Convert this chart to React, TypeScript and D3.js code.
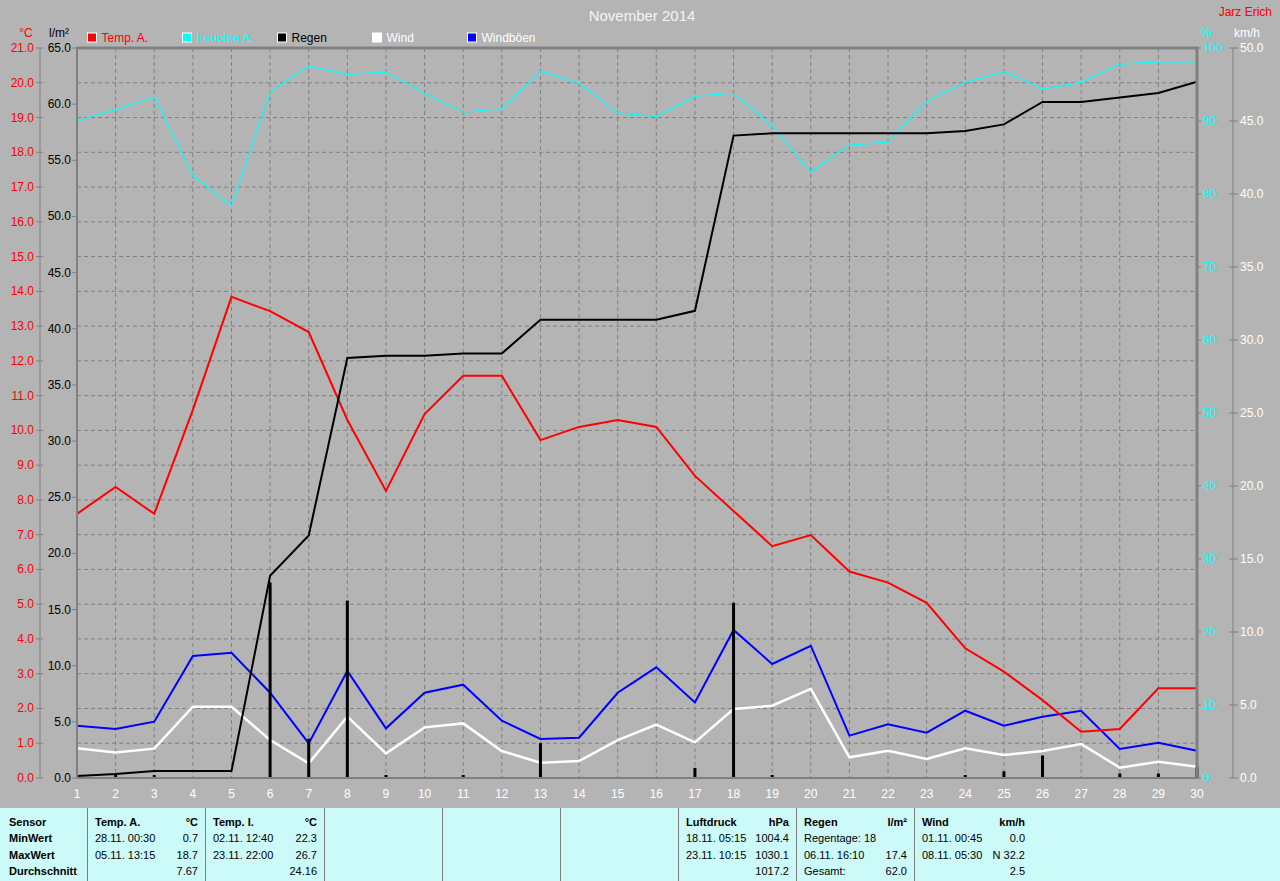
import React from "react";
import * as d3 from "d3";

// ---- data ----
const days = [1,2,3,4,5,6,7,8,9,10,11,12,13,14,15,16,17,18,19,20,21,22,23,24,25,26,27,28,29,30];
const tempA = [7.6,8.37,7.6,10.59,13.84,13.43,12.83,10.3,8.26,10.47,11.57,11.57,9.72,10.1,10.3,10.1,8.69,7.68,6.67,6.99,5.94,5.62,5.04,3.73,3.06,2.24,1.33,1.41,2.58,2.58];
const humidity = [90.0,91.6,93.3,82.5,78.4,94.0,97.5,96.4,96.7,93.8,91.2,91.7,96.8,95.2,91.1,90.6,93.4,93.8,89.3,83.0,86.7,87.1,92.7,95.3,96.8,94.4,95.3,97.8,98.1,98.1];
const rainTotal = [0.18,0.36,0.62,0.62,0.62,18.0,21.6,37.4,37.6,37.6,37.8,37.8,40.8,40.8,40.8,40.8,41.6,57.2,57.4,57.4,57.4,57.4,57.4,57.6,58.2,60.2,60.2,60.6,61.0,62.0];
const rainDaily = [0,0.2,0.2,0,0,17.4,3.5,15.8,0.2,0,0.2,0,3.1,0,0,0,0.9,15.6,0.2,0,0,0,0,0.2,0.6,2.0,0,0.4,0.4,1.0];
const wind = [2.03,1.74,2.01,4.88,4.88,2.6,1.0,4.2,1.69,3.47,3.74,1.85,1.05,1.16,2.6,3.65,2.44,4.73,4.95,6.1,1.42,1.87,1.3,2.03,1.58,1.85,2.33,0.71,1.12,0.77];
const gusts = [3.58,3.36,3.86,8.36,8.58,5.84,2.37,7.33,3.4,5.84,6.39,3.93,2.67,2.76,5.84,7.58,5.18,10.14,7.81,9.06,2.9,3.68,3.1,4.61,3.58,4.2,4.61,1.99,2.42,1.87];

const tempTicks = [0,1,2,3,4,5,6,7,8,9,10,11,12,13,14,15,16,17,18,19,20,21];
const rainTicks = [0,5,10,15,20,25,30,35,40,45,50,55,60,65];
const humTicks = [0,10,20,30,40,50,60,70,80,90,100];
const windTicks = [0,5,10,15,20,25,30,35,40,45,50];

const legendNames = ["Temp. A.", "Feuchte A.", "Regen", "Wind", "Windböen"];
const legendColors = ["#ff0000", "#00ffff", "#000000", "#ffffff", "#0000ff"];
const legendTextColors = ["#ff0000", "#00ffff", "#000000", "#ffffff", "#ffffff"];

const tableRowLabels = ["Sensor", "MinWert", "MaxWert", "Durchschnitt"];
const tableCols = [
  { x0: 87, x1: 205, head: "Temp. A.", unit: "°C", left: ["28.11.  00:30", "05.11.  13:15", ""], right: ["0.7", "18.7", "7.67"] },
  { x0: 205, x1: 324, head: "Temp. I.", unit: "°C", left: ["02.11.  12:40", "23.11.  22:00", ""], right: ["22.3", "26.7", "24.16"] },
  { x0: 678, x1: 796, head: "Luftdruck", unit: "hPa", left: ["18.11.  05:15", "23.11.  10:15", ""], right: ["1004.4", "1030.1", "1017.2"] },
  { x0: 796, x1: 914, head: "Regen", unit: "l/m²", left: ["Regentage: 18", "06.11.  16:10", "Gesamt:"], right: ["", "17.4", "62.0"] },
  { x0: 914, x1: 1032, head: "Wind", unit: "km/h", left: ["01.11.  00:45", "08.11.  05:30", ""], right: ["0.0", "N 32.2", "2.5"] },
];
const tableDividers = [87, 205, 324, 442, 560, 678, 796, 914];

export default function App() {
  const W = 1280, H = 881;
  const left = 77, right = 1197, top = 48, bottom = 778;
  const x = d3.scaleLinear().domain([1, 30]).range([left, right]);
  const yT = d3.scaleLinear().domain([0, 21]).range([bottom, top]);
  const yR = d3.scaleLinear().domain([0, 65]).range([bottom, top]);
  const yH = d3.scaleLinear().domain([0, 100]).range([bottom, top]);
  const yW = d3.scaleLinear().domain([0, 50]).range([bottom, top]);

  const mk = (vals: number[], y: d3.ScaleLinear<number, number>) =>
    d3.line<number>().x((_, i) => x(days[i])).y((v) => y(v))(vals) || "";

  const font = "'Liberation Sans', Arial, sans-serif";
  const grid = "#808080";

  return (
    <div style={{ position: "absolute", left: 0, top: 0, width: W, height: H }}>
      <svg width={W} height={H} style={{ display: "block", fontFamily: font }}>
        <rect x={0} y={0} width={W} height={H} fill="#b4b4b4" />
        {/* title */}
        <text x={642} y={21} textAnchor="middle" fontSize={15} fill="#f4f4f4">November 2014</text>
        <text x={1272} y={16} textAnchor="end" fontSize={12} fill="#ff0000">Jarz Erich</text>

        {/* unit headers */}
        <text x={26} y={37} textAnchor="middle" fontSize={12} fill="#ff0000">°C</text>
        <text x={59} y={37} textAnchor="middle" fontSize={12} fill="#000">l/m²</text>
        <text x={1206} y={37} textAnchor="middle" fontSize={12} fill="#00ffff">%</text>
        <text x={1247} y={37} textAnchor="middle" fontSize={12} fill="#ffffff">km/h</text>

        {/* legend */}
        {legendNames.map((n, i) => {
          const lx = 87.5 + i * 95;
          return (
            <g key={n}>
              <rect x={lx} y={33} width={9} height={9} fill={legendColors[i]} stroke="#ffffff" strokeWidth={1} />
              <text x={lx + 14} y={42} fontSize={12} fill={legendTextColors[i]}>{n}</text>
            </g>
          );
        })}

        {/* grid */}
        {tempTicks.map((t) => (
          <line key={"hg" + t} x1={left} x2={right} y1={yT(t)} y2={yT(t)} stroke={grid} strokeWidth={1} strokeDasharray="4,3" />
        ))}
        {days.map((d) => (
          <line key={"vg" + d} x1={x(d)} x2={x(d)} y1={top} y2={bottom} stroke={grid} strokeWidth={1} strokeDasharray="4,3" />
        ))}

        {/* left temp axis */}
        <line x1={40} x2={40} y1={top} y2={bottom} stroke={grid} strokeWidth={1} />
        {tempTicks.map((t) => (
          <g key={"ta" + t}>
            <line x1={36} x2={43} y1={yT(t)} y2={yT(t)} stroke={grid} />
            <text x={34} y={yT(t) + 4} textAnchor="end" fontSize={12} fill="#ff0000">{t.toFixed(1)}</text>
          </g>
        ))}
        {/* rain axis */}
        {rainTicks.map((t) => (
          <g key={"ra" + t}>
            <line x1={72} x2={77} y1={yR(t)} y2={yR(t)} stroke={grid} />
            <text x={71} y={yR(t) + 4} textAnchor="end" fontSize={12} fill="#000">{t.toFixed(1)}</text>
          </g>
        ))}
        {/* humidity axis */}
        {humTicks.map((t) => (
          <g key={"ha" + t}>
            <line x1={right} x2={1201} y1={yH(t)} y2={yH(t)} stroke={grid} />
            <text x={1203} y={yH(t) + 4} fontSize={12} fill="#00ffff">{t}</text>
          </g>
        ))}
        {/* wind axis */}
        <line x1={1233} x2={1233} y1={top} y2={bottom} stroke={grid} strokeWidth={1} />
        {windTicks.map((t) => (
          <g key={"wa" + t}>
            <line x1={1229} x2={1238} y1={yW(t)} y2={yW(t)} stroke={grid} />
            <text x={1240} y={yW(t) + 4} fontSize={12} fill="#ffffff">{t.toFixed(1)}</text>
          </g>
        ))}

        {/* x labels */}
        {days.map((d) => (
          <text key={"xl" + d} x={x(d)} y={798} textAnchor="middle" fontSize={12} fill="#ffffff">{d}</text>
        ))}

        {/* series */}
        <path d={mk(humidity, yH)} fill="none" stroke="#00ffff" strokeWidth={1.2} />
        <path d={mk(wind, yW)} fill="none" stroke="#ffffff" strokeWidth={2.5} />
        <path d={mk(gusts, yW)} fill="none" stroke="#0000ff" strokeWidth={2} />
        <path d={mk(tempA, yT)} fill="none" stroke="#ff0000" strokeWidth={2} />
        <path d={mk(rainTotal, yR)} fill="none" stroke="#000000" strokeWidth={2} />
        {rainDaily.map((v, i) =>
          v > 0 ? (
            <rect key={"rb" + i} x={x(days[i]) - 1.5} y={Math.min(yR(v), bottom - 3)} width={3} height={bottom - Math.min(yR(v), bottom - 3)} fill="#000" />
          ) : null
        )}

        {/* plot border */}
        <line x1={left} x2={left} y1={top - 1} y2={bottom} stroke={grid} strokeWidth={2} />
        <line x1={left} x2={right + 1.5} y1={top} y2={top} stroke={grid} strokeWidth={3} />
        <line x1={right} x2={right} y1={top} y2={bottom + 1} stroke={grid} strokeWidth={3} />
        <line x1={left} x2={right + 1.5} y1={bottom} y2={bottom} stroke={grid} strokeWidth={2} />

        {/* table */}
        <rect x={0} y={808} width={W} height={H - 808} fill="#ccfaf8" />
        {tableDividers.map((dx) => (
          <line key={"td" + dx} x1={dx + 0.5} x2={dx + 0.5} y1={808} y2={H} stroke="#808080" strokeWidth={1} />
        ))}
        {tableRowLabels.map((l, i) => (
          <text key={"rl" + i} x={9} y={826 + i * 16.3} fontSize={11} fontWeight="bold" fill="#000">{l}</text>
        ))}
        {tableCols.map((c) => (
          <g key={c.head}>
            <text x={c.x0 + 8} y={826} fontSize={11} fontWeight="bold" fill="#000">{c.head}</text>
            <text x={c.x1 - 7} y={826} fontSize={11} fontWeight="bold" fill="#000" textAnchor="end">{c.unit}</text>
            {c.left.map((t, i) => (
              <text key={"l" + i} x={c.x0 + 8} y={826 + (i + 1) * 16.3} fontSize={11} fill="#000">{t}</text>
            ))}
            {c.right.map((t, i) => (
              <text key={"r" + i} x={c.x1 - 7} y={826 + (i + 1) * 16.3} fontSize={11} fill="#000" textAnchor="end">{t}</text>
            ))}
          </g>
        ))}
      </svg>
    </div>
  );
}
